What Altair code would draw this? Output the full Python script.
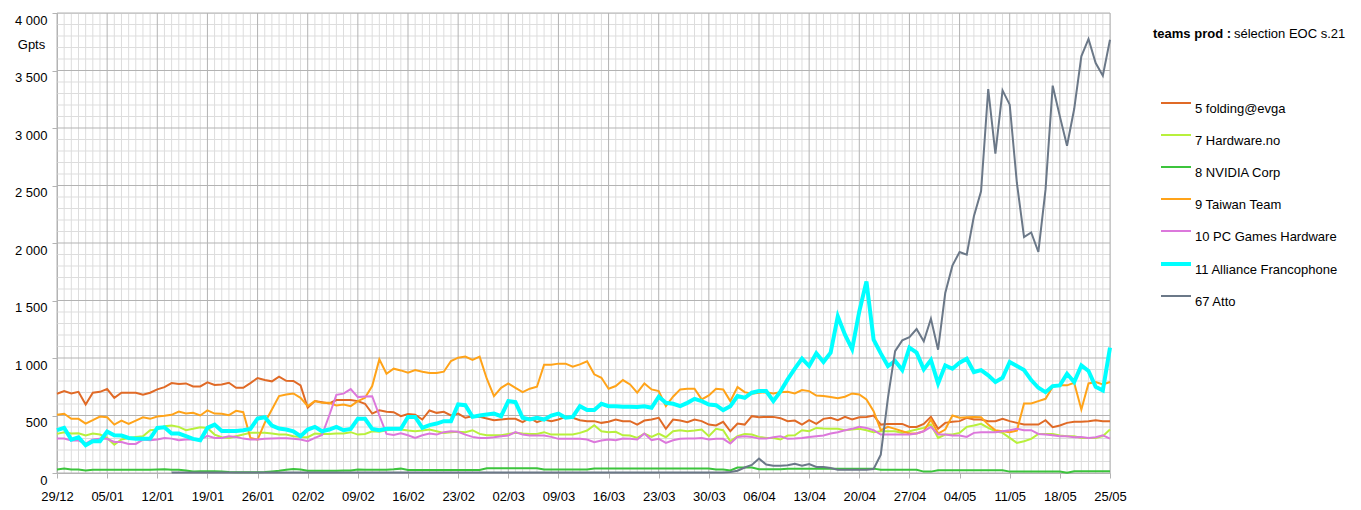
import altair as alt
import pandas as pd

# ---------------- data ----------------
START = "2014-12-29"
N_DAYS = 148
dates = pd.date_range(START, periods=N_DAYS, freq="D").strftime("%Y-%m-%d").tolist()

teams = ["5 folding@evga", "7 Hardware.no", "8 NVIDIA Corp", "9 Taiwan Team",
         "10 PC Games Hardware", "11 Alliance Francophone", "67 Atto"]
colors = ["#e06a26", "#b8f03c", "#3cc43c", "#ffa319", "#dc78dc", "#00ffff", "#6b7888"]
widths = [2, 2, 2, 2, 2, 4, 2]

folding = [689, 712, 692, 706, 596, 698, 706, 730, 654, 698, 698, 698, 680, 698, 727, 747,
           782, 773, 779, 753, 753, 788, 765, 770, 785, 741, 741, 782, 826, 808, 797, 837,
           802, 800, 762, 567, 625, 616, 605, 634, 634, 634, 625, 602, 517, 545, 532, 529, 494,
           512, 506, 465, 544, 523, 532, 500, 517, 480, 494, 488, 474, 459, 465, 471, 471,
           442, 480, 442, 465, 451, 465, 488, 480, 459, 451, 451, 436, 445, 465, 451, 451,
           421, 456, 465, 480, 384, 465, 456, 442, 465, 451, 421, 413, 445, 363, 430, 421,
           494, 485, 488, 488, 477,
           451, 456, 421, 459, 427, 471, 480, 459, 488, 465, 485, 488, 500, 421, 427, 427,
           427, 401, 401, 427, 488, 384, 436, 445, 451, 480, 465, 465, 451, 451, 471, 451,
           436, 421, 421, 421, 459, 398, 413, 436, 445, 445, 451, 459, 451, 451]

hardware = [340, 355, 343, 346, 326, 343, 334, 305, 247, 291, 305, 314, 320, 372, 378, 407,
            413, 401, 372, 384, 398, 392, 334, 311, 305, 320, 334, 349, 349, 349, 343, 334,
            334, 320, 314, 311, 343, 340, 340, 343, 343, 355, 334, 340, 363, 358, 372, 378, 378,
            369, 363, 369, 378, 363, 349, 355, 358, 355, 372, 340, 328, 328, 328, 340, 349,
            343, 340, 340, 355, 334, 334, 334, 334, 349, 369, 416, 363, 355, 358, 328, 326,
            305, 343, 314, 343, 311, 363, 372, 363, 369, 378, 320, 384, 372, 276, 320, 340,
            334, 314, 305, 305, 291,
            326, 328, 372, 363, 392, 387, 384, 384, 372, 378, 384, 372, 355, 363, 363, 363,
            349, 363, 378, 392, 421, 305, 334, 334, 349, 401, 413, 427, 392, 363, 349, 305,
            262, 276, 297, 340, 340, 340, 326, 320, 320, 305, 305, 305, 320, 378]

nvidia = [30, 38, 30, 30, 22, 28, 28, 28, 28, 28, 28, 28, 28, 28, 30, 32,
          28, 28, 22, 14, 15, 15, 15, 12, 8, 6, 6, 6, 6, 8, 14, 20,
          28, 35, 30, 20, 20, 20, 20, 20, 22, 22, 30, 28, 28, 28, 28, 32, 38,
          26, 26, 26, 26, 26, 26, 26, 26, 26, 26, 26, 42, 42, 42, 42, 42,
          42, 42, 42, 30, 30, 30, 30, 30, 30, 30, 40, 40, 40, 40, 40, 40,
          40, 40, 40, 40, 40, 40, 40, 40, 40, 40, 40, 30, 30, 22, 48, 48,
          48, 32, 32, 32, 32,
          38, 38, 38, 38, 38, 38, 38, 38, 38, 38, 38, 38, 38, 29, 29, 29,
          29, 29, 29, 12, 12, 23, 23, 23, 23, 23, 23, 23, 23, 23, 23, 12,
          12, 12, 12, 12, 12, 12, 12, 3, 15, 15, 15, 15, 15, 15]

taiwan = [506, 515, 471, 471, 430, 459, 491, 485, 421, 456, 427, 456, 485, 471, 491, 497,
          506, 535, 517, 523, 500, 544, 517, 515, 503, 541, 529, 305, 290, 436, 552, 669,
          683, 692, 654, 581, 625, 610, 610, 587, 596, 581, 625, 654, 756, 988, 863, 907, 892,
          872, 895, 881, 869, 869, 881, 974, 1003, 1012, 983, 1012, 820, 669, 741, 779, 741,
          703, 733, 750, 942, 942, 951, 951, 924, 945, 971, 858, 828, 733, 756, 808, 770,
          698, 779, 727, 712, 581, 663, 727, 733, 733, 640, 674, 733, 727, 625, 747, 703,
          689, 698, 703, 692, 703,
          706, 692, 721, 712, 674, 669, 660, 651, 663, 692, 683, 640, 538, 372, 401, 384,
          363, 343, 343, 363, 465, 343, 378, 500, 480, 485, 488, 485, 421, 372, 363, 355,
          369, 605, 605, 625, 645, 750, 762, 762, 785, 552, 779, 791, 770, 791]

pcgames = [299, 299, 282, 282, 256, 291, 297, 297, 270, 270, 253, 253, 291, 285, 291, 305,
           299, 285, 291, 291, 291, 323, 305, 305, 320, 314, 299, 291, 291, 297, 299, 302,
           302, 297, 291, 276, 305, 330, 500, 680, 690, 730, 660, 665, 668, 500, 340, 330, 345,
           328, 305, 328, 343, 334, 355, 363, 358, 334, 314, 305, 305, 311, 320, 326, 355,
           334, 326, 326, 326, 314, 297, 297, 297, 297, 291, 267, 282, 291, 285, 299, 297,
           291, 343, 285, 297, 262, 285, 297, 299, 299, 305, 291, 297, 297, 256, 314, 320,
           314, 299, 299, 311, 320,
           297, 299, 305, 314, 320, 326, 343, 355, 372, 384, 401, 392, 372, 334, 334, 334,
           334, 334, 343, 363, 401, 334, 334, 326, 326, 314, 349, 355, 355, 355, 363, 372,
           384, 372, 372, 340, 334, 328, 320, 320, 311, 314, 305, 311, 328, 299]

alliance = [372, 392, 291, 311, 241, 276, 276, 360, 328, 326, 305, 297, 297, 299, 392, 398,
            343, 343, 320, 297, 285, 392, 421, 366, 366, 366, 372, 384, 474, 485, 413, 387,
            378, 363, 320, 378, 401, 363, 378, 401, 372, 384, 471, 471, 384, 372, 384, 384, 384,
            488, 488, 392, 416, 430, 451, 451, 596, 590, 488, 500, 509, 517, 494, 625, 616,
            480, 465, 480, 465, 500, 517, 480, 488, 581, 547, 547, 602, 581, 581, 576, 576,
            573, 581, 567, 663, 610, 602, 581, 610, 645, 625, 596, 590, 547, 581, 669, 654,
            698, 712, 712, 625, 710,
            814, 907, 994, 930, 1041, 965, 1047, 1362, 1203, 1078, 1405, 1666, 1159, 1040, 930, 974,
            895, 1090, 1047, 901, 983, 779, 936, 907, 959, 994, 878, 895, 849, 791, 828, 965,
            930, 895, 808, 741, 703, 756, 762, 863, 791, 936, 887, 750, 718, 1090]

atto = [None, None, None, None, None, None, None, None, None, None, None, None, None, None, None, None,
        4, 4, 4, 4, 4, 4, 4, 4, 4, 4, 4, 4, 4, 4, 4, 4,
        4, 4, 4, 4, 4, 4, 4, 4, 4, 4, 4, 4, 4, 4, 4, 4, 4,
        4, 4, 4, 4, 4, 4, 4, 4, 4, 4, 4, 4, 4, 4, 4, 4,
        4, 4, 4, 4, 4, 4, 4, 4, 4, 4, 4, 4, 4, 4, 4, 4,
        4, 4, 4, 4, 4, 4, 4, 4, 4, 4, 4, 4, 4, 9, 20, 48,
        70, 125, 73, 64, 64,
        67, 81, 64, 78, 52, 52, 44, 29, 29, 29, 29, 29, 35, 160, 654, 1060,
        1153, 1182, 1252, 1145, 1342, 1072, 1565, 1803, 1922, 1898, 2232, 2449, 3339, 2777, 3327, 3203,
        2522, 2052, 2092, 1922, 2464, 3368, 3101, 2846, 3165, 3623, 3774, 3565, 3455, 3768]

series = [folding, hardware, nvidia, taiwan, pcgames, alliance, atto]

y_major = [0, 500, 1000, 1500, 2000, 2500, 3000, 3500, 4000]
y_minor = [v for v in range(0, 4001, 100) if v % 500 != 0]

# ---------------- tables ----------------
rows = []
for team, vals in zip(teams, series):
    for d, v in zip(dates, vals):
        if v is not None:
            rows.append({"date": d, "team": team, "value": v})
df = pd.DataFrame(rows)

major_dates = dates[::7]
minor_dates = [d for i, d in enumerate(dates) if i % 7 != 0]


def utc_ms(d):
    return int(pd.Timestamp(d, tz="UTC").value // 10**6)


x_domain = [utc_ms(dates[0]), utc_ms(dates[-1])]
x_ticks = [utc_ms(d) for d in major_dates]

FONT = "Liberation Sans"
GRID_MAJOR = "#b3b3b3"
GRID_MINOR = "#dddddd"

x_scale = alt.Scale(type="utc", domain=x_domain, nice=False)
y_scale = alt.Scale(domain=[0, 4000], nice=False, zero=True)

x_axis = alt.Axis(
    values=x_ticks, labelExpr="utcFormat(datum.value, '%d/%m')",
    grid=False, title=None, tickSize=5, tickColor=GRID_MAJOR, domainColor=GRID_MAJOR,
    labelFont=FONT, labelFontSize=13, labelColor="#000000", labelPadding=12,
    labelFlush=False, labelOverlap=False)
y_axis = alt.Axis(
    values=y_major, labelExpr="replace(format(datum.value, ','), ',', ' ')",
    grid=False, tickSize=5, tickColor=GRID_MAJOR, domainColor=GRID_MAJOR,
    labelFont=FONT, labelFontSize=13, labelColor="#000000", labelPadding=5,
    labelBaseline="middle", labelOffset=7, labelFlush=False, labelOverlap=False,
    title="Gpts", titleAngle=0, titleX=-26, titleY=31, titleAlign="center",
    titleBaseline="middle", titleFont=FONT, titleFontSize=13,
    titleFontWeight="normal", titleColor="#000000")

minor_v = alt.Chart(pd.DataFrame({"date": minor_dates})).mark_rule(
    color=GRID_MINOR, strokeWidth=1).encode(x=alt.X("date:T", scale=x_scale, axis=x_axis))
minor_h = alt.Chart(pd.DataFrame({"value": y_minor})).mark_rule(
    color=GRID_MINOR, strokeWidth=1).encode(y=alt.Y("value:Q", scale=y_scale, axis=y_axis))
major_v = alt.Chart(pd.DataFrame({"date": major_dates})).mark_rule(
    color=GRID_MAJOR, strokeWidth=1).encode(x=alt.X("date:T", scale=x_scale, axis=x_axis))
major_h = alt.Chart(pd.DataFrame({"value": y_major})).mark_rule(
    color=GRID_MAJOR, strokeWidth=1).encode(y=alt.Y("value:Q", scale=y_scale, axis=y_axis))

legend_kw = dict(
    orient="none", legendX=1102, legendY=74, title=None,
    symbolType="stroke", symbolSize=900,
    labelFont=FONT, labelFontSize=13, labelColor="#000000",
    labelBaseline="top", labelOffset=2, labelLimit=400,
    rowPadding=3, padding=0,
)

lines = alt.Chart(df).mark_line(interpolate="linear").encode(
    x=alt.X("date:T", scale=x_scale, axis=x_axis),
    y=alt.Y("value:Q", scale=y_scale, axis=y_axis),
    color=alt.Color("team:O", scale=alt.Scale(type="ordinal", domain=teams, range=colors),
                    legend=alt.Legend(**legend_kw)),
    strokeWidth=alt.StrokeWidth("team:O", scale=alt.Scale(type="ordinal", domain=teams, range=widths),
                                legend=alt.Legend(**legend_kw)),
)

title_bold = alt.Chart(pd.DataFrame({"t": ["teams prod :"]})).mark_text(
    align="left", baseline="middle", font=FONT, fontSize=13, fontWeight="bold",
    color="#000000").encode(x=alt.value(1096), y=alt.value(21), text="t:N")
title_rest = alt.Chart(pd.DataFrame({"t": ["sélection EOC s.21"]})).mark_text(
    align="left", baseline="middle", font=FONT, fontSize=13, fontWeight="normal",
    color="#000000").encode(x=alt.value(1177), y=alt.value(21), text="t:N")

chart = alt.layer(minor_v, minor_h, major_v, major_h, lines, title_bold, title_rest).properties(
    width=1053, height=460,
    padding={"left": 49, "top": 5, "right": 243, "bottom": 29},
    autosize=alt.AutoSizeParams(type="none"),
    background="#ffffff",
).configure_view(stroke=None).configure(font=FONT)

chart.save("out.html", embed_options={"renderer": "svg", "actions": False})
